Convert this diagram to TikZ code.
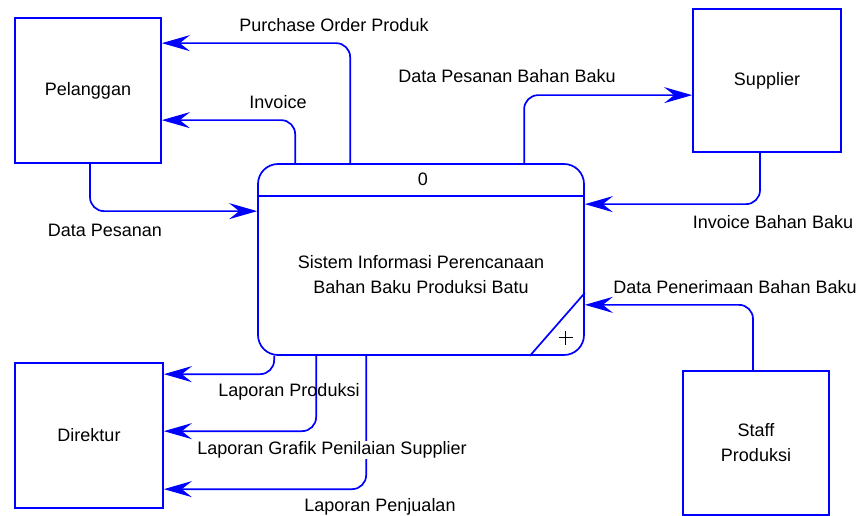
\documentclass[tikz,border=0pt]{standalone}
\usepackage{fontspec}
\setmainfont{Liberation Sans}
\usetikzlibrary{arrows.meta,calc}
\definecolor{dfdblue}{RGB}{0,0,255}
\newcommand\lbl{\fontsize{18}{25}\selectfont}
\begin{document}
\begin{tikzpicture}[x=1pt,y=-1pt,
  ent/.style={draw=dfdblue,line width=1.7pt,minimum width=146pt,minimum height=145pt,inner sep=0pt,align=center,font=\lbl},
  procbox/.style={draw=dfdblue,line width=1.7pt,rounded corners=20pt,minimum width=326pt,minimum height=191pt,inner sep=0pt},
  flow/.style={draw=dfdblue,line width=1.7pt,rounded corners=14pt,-{Stealth[length=28pt,width=16pt,inset=10pt]}},
  lab/.style={font=\lbl,inner sep=1pt,align=center}]
\useasboundingbox (0,0) rectangle (860,516);

% external entities
\node[ent] (pel) at (88,90.5) {Pelanggan};
\node[ent,minimum width=148pt,minimum height=143pt] (sup) at (767,80.5) {Supplier};
\node[ent,minimum width=148pt] (dir) at (89,435.5) {Direktur};
\node[ent,minimum height=144pt] (staff) at (756,443) {Staff\\Produksi};

% process 0
\node[procbox] (proc) at (421,259.5) {};
\draw[dfdblue,line width=1.7pt] ($(proc.north west)+(0,33)$) -- ($(proc.north east)+(0,33)$);
\node[lab] (pnum) at ($(proc.north)+(2,16)$) {0};
\node[lab] (ptxt) at ($(proc.center)+(0,15)$) {Sistem Informasi Perencanaan\\Bahan Baku Produksi Batu};
\draw[dfdblue,line width=1.7pt] ($(proc.south east)+(-55,0)$) -- ($(proc.south east)+(0,-63)$);
\draw[line width=0.8pt] ($(proc.south east)+(-26,-18)$) -- ($(proc.south east)+(-12,-18)$)
                        ($(proc.south east)+(-19,-25)$) -- ($(proc.south east)+(-19,-11)$);

% data flows
\draw[flow] ($(proc.north west)+(93,0)$) |- ($(pel.north east)+(0,26)$);
\draw[flow] ($(proc.north west)+(38,0)$) |- ($(pel.north east)+(0,103)$);
\draw[flow] ($(pel.south)+(2,0)$) |- ($(proc.north west)+(0,48)$);
\draw[flow] ($(proc.north west)+(267,0)$) |- ($(sup.north west)+(0,87)$);
\draw[flow] ($(sup.south)+(-7,0)$) |- ($(proc.north east)+(0,41)$);
\draw[flow] ($(staff.north)+(-3,0)$) |- ($(proc.south east)+(0,-51)$);
\draw[flow] ($(proc.south west)+(17,0)$) |- ($(dir.north east)+(0,12)$);
\draw[flow] ($(proc.south west)+(59,0)$) |- ($(dir.north east)+(0,69)$);
\draw[flow] ($(proc.south west)+(109,0)$) |- ($(dir.north east)+(0,127)$);

% flow labels
\node[lab] (l1) at (334,25) {Purchase Order Produk};
\node[lab] (l2) at (278,102) {Invoice};
\node[lab] (l3) at (105,230) {Data Pesanan};
\node[lab] (l4) at (507,76) {Data Pesanan Bahan Baku};
\node[lab] (l5) at (773,222) {Invoice Bahan Baku};
\node[lab] (l6) at (735,287) {Data Penerimaan Bahan Baku};
\node[lab] (l7) at (289,392) {Laporan Produksi};
\node[lab,fill=white] (l8) at (332,450) {Laporan Grafik Penilaian Supplier};
\node[lab] (l9) at (380,507) {Laporan Penjualan};
\end{tikzpicture}
\end{document}
